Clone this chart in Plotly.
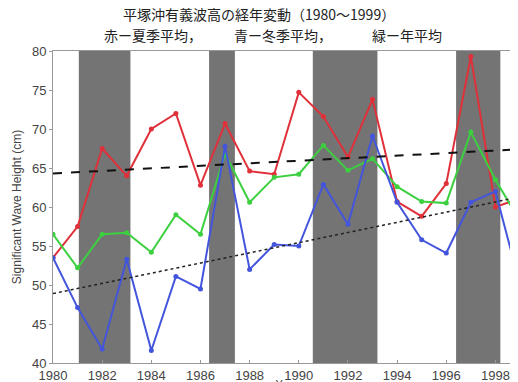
import plotly.graph_objects as go

years = list(range(1980, 2000))
summer = [53.5, 57.5, 67.5, 64.0, 70.0, 72.0, 62.8, 70.7, 64.6, 64.2,
          74.7, 71.6, 66.4, 73.8, 60.7, 58.8, 63.0, 79.3, 60.0, 61.1]
winter = [53.5, 47.1, 41.8, 53.3, 41.6, 51.1, 49.5, 67.8, 52.0, 55.2,
          55.0, 62.9, 57.8, 69.1, 60.6, 55.8, 54.1, 60.6, 62.0, 50.0]
annual = [56.5, 52.2, 56.5, 56.7, 54.2, 59.0, 56.5, 66.8, 60.6, 63.8,
          64.2, 67.9, 64.7, 66.2, 62.6, 60.7, 60.5, 69.6, 63.5, 58.2]
trend_summer = [64.3, 67.4]
trend_winter = [48.9, 61.3]
trend_years = [1980, 1999]
band_start = [1981.05, 1986.35, 1990.57, 1996.4]
band_end = [1983.15, 1987.4, 1993.2, 1998.2]
title_line1 = "平塚沖有義波高の経年変動（1980～1999）"
title_line2 = ["赤ー夏季平均，", "青ー冬季平均，", "緑ー年平均"]

fig = go.Figure()
for s, e in zip(band_start, band_end):
    fig.add_shape(type="rect", xref="x", yref="y", x0=s, x1=e, y0=40, y1=80,
                  fillcolor="#747474", line_width=0, layer="below")

def add(vals, color):
    fig.add_trace(go.Scatter(x=years, y=vals, mode="lines+markers",
                             line=dict(color=color, width=2),
                             marker=dict(color=color, size=5),
                             showlegend=False))

add(summer, "#e0303a")
add(annual, "#3cd040")
add(winter, "#4455dd")
fig.add_trace(go.Scatter(x=trend_years, y=trend_summer, mode="lines",
                         line=dict(color="#111111", width=2, dash="dash"), showlegend=False))
fig.add_trace(go.Scatter(x=trend_years, y=trend_winter, mode="lines",
                         line=dict(color="#222222", width=1.5, dash="dot"), showlegend=False))

tfont = dict(family="Noto Sans CJK JP", size=14, color="#222222")
fig.add_annotation(text=title_line1, xref="paper", yref="paper", x=0.441, y=1.1186,
                   xanchor="center", yanchor="middle", showarrow=False, font=tfont)
for txt, xp in zip(title_line2, [0.214, 0.4925, 0.758]):
    fig.add_annotation(text=txt, xref="paper", yref="paper", x=xp, y=1.0513,
                       xanchor="center", yanchor="middle", showarrow=False, font=tfont)

fig.update_layout(
    width=518, height=382,
    margin=dict(l=45, r=6, t=43, b=27, autoexpand=False),
    paper_bgcolor="white", plot_bgcolor="white",
    font=dict(family="Liberation Sans, sans-serif", color="#444444", size=12),
    xaxis=dict(range=[1980, 1999], tickvals=list(range(1980, 2000, 2)),
               showgrid=False, zeroline=False, showline=True, linecolor="#999999",
               ticks="inside", ticklen=3, tickcolor="#999999", mirror=True,
               automargin=False, tickfont=dict(size=13),
               title=dict(text="Year", standoff=2, font=dict(size=11))),
    yaxis=dict(range=[40, 80], tickvals=[40, 45, 50, 55, 60, 65, 70, 75, 80],
               showgrid=False, zeroline=False, showline=True, linecolor="#999999",
               ticks="outside", ticklen=3, tickcolor="#999999", mirror=True,
               automargin=False, tickfont=dict(size=13),
               title=dict(text="Significant Wave Height (cm)", standoff=7, font=dict(size=12))),
)
fig.write_html("out.html")
